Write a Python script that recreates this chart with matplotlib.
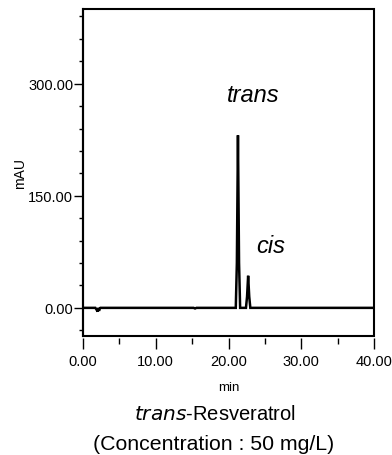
import numpy as np
from matplotlib import pyplot as plt
from matplotlib.patches import Rectangle
from matplotlib.ticker import MultipleLocator

# chromatogram trace (min, mAU)
time_min = [0.0, 1.7, 1.9, 2.0, 2.1, 2.2, 2.3, 2.4, 2.6, 15.2, 15.4, 15.6,
            21.0, 21.15, 21.3, 21.45, 21.6, 22.4, 22.55, 22.7, 22.85, 23.0, 40.0]
absorb_mau = [0.0, 0.0, -3.0, -5.0, 0.0, -4.0, -1.0, 0.0, 0.0, 0.0, -0.8, 0.0,
              0.0, 60.0, 231.0, 60.0, 0.0, 0.0, 15.0, 43.0, 15.0, 0.0, 0.0]

peak_names = ["trans", "cis"]
peak_label_pos = [(23.4, 285.0), (25.8, 83.0)]

x_ticks = [0, 10, 20, 30, 40]
y_ticks = [0, 150, 300]

arial = ["Liberation Sans", "DejaVu Sans"]

fig = plt.figure(figsize=(3.92, 4.56), dpi=100)
ax = fig.add_axes([83 / 392, 1 - 336.5 / 456, 291 / 392, 326.5 / 456])

ax.plot(time_min, absorb_mau, color="black", lw=1.8, solid_joinstyle="miter")
ax.set_xlim(0, 40)
ax.set_ylim(-37, 400)

for name, (px, py) in zip(peak_names, peak_label_pos):
    ax.text(px, py, name, fontsize=17, style="italic", ha="center",
            va="center", family=arial)

# box frame, bottom ticks sit a little below it
for s in ax.spines.values():
    s.set_visible(False)
ax.spines["left"].set_visible(True)
ax.spines["left"].set_linewidth(1.5)
ax.add_patch(Rectangle((0, 0), 1, 1, transform=ax.transAxes, fill=False,
                       lw=1.5, ec="black", clip_on=False))
ax.spines["bottom"].set_position(("outward", 2))

ax.set_xticks(x_ticks)
ax.set_xticklabels([f"{v:.2f}" for v in x_ticks], family=arial, fontsize=10.5)
ax.xaxis.set_minor_locator(MultipleLocator(5))
ax.set_yticks(y_ticks)
ax.set_yticklabels([f"{v:.2f}" for v in y_ticks], family=arial, fontsize=10.5)
ax.yaxis.set_minor_locator(MultipleLocator(30))
ax.tick_params(axis="x", which="major", length=8, width=1.0, pad=3)
ax.tick_params(axis="x", which="minor", length=4.5, width=1.0)
ax.tick_params(axis="y", which="major", length=6.5, width=1.0, pad=0.5)
ax.tick_params(axis="y", which="minor", length=3, width=1.0)

ax.set_xlabel("min", family=arial, fontsize=9.5, labelpad=10)
ax.set_ylabel("mAU", family=arial, fontsize=10, labelpad=1)

fig.text(215 / 392, 1 - 415 / 456, r"$\it{trans}$-Resveratrol", fontsize=14.5,
         ha="center", va="center", family=arial)
fig.text(214 / 392, 1 - 445 / 456, "(Concentration : 50 mg/L)", fontsize=15.3,
         ha="center", va="center", family=arial)

fig.savefig("out.png", dpi=100)
